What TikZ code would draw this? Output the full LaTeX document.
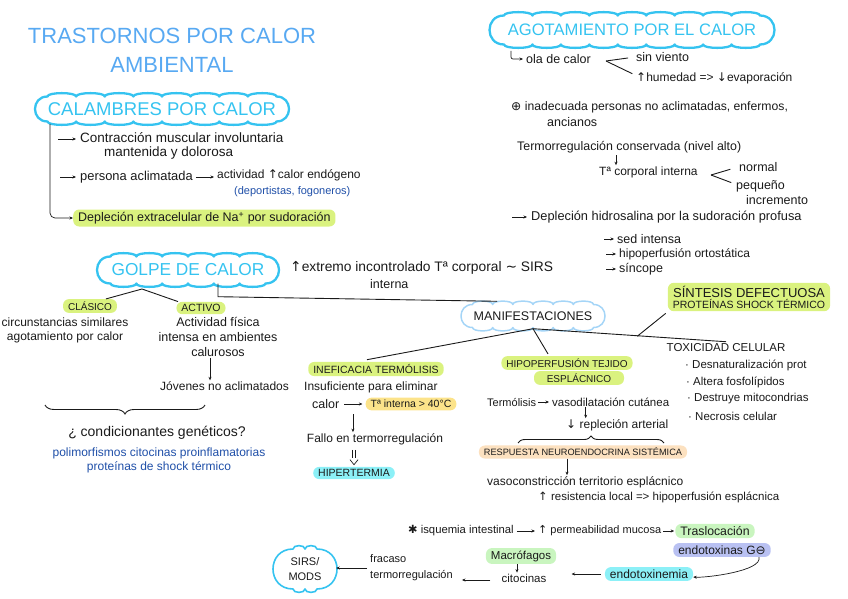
\documentclass[tikz,border=0pt]{standalone}
\usepackage{fontspec}
\setmainfont{Liberation Sans}
\newfontfamily\sym{DejaVu Sans}
\usetikzlibrary{arrows.meta,decorations.pathreplacing,calc}
\definecolor{ink}{HTML}{1A1A1A}
\definecolor{titleblue}{HTML}{58A9F2}
\definecolor{cyanline}{HTML}{35C3F0}
\definecolor{manline}{HTML}{A5D5F7}
\definecolor{lime}{HTML}{DAF27F}
\definecolor{yellowhl}{HTML}{FCE38A}
\definecolor{cyanhl}{HTML}{8CF0F7}
\definecolor{peach}{HTML}{FCE1C0}
\definecolor{lav}{HTML}{B9C1F2}
\definecolor{lgreen}{HTML}{C9F5BF}
\definecolor{dblue}{HTML}{1F4FA8}
\newcommand\fsz[2]{\fontsize{#1}{#2}\selectfont}
% cloud outline: style, cx, cy, straight width, height, number of bumps
\newcommand\cloudframe[6]{%
  \pgfmathsetmacro\cfx{#2-#4/2}%
  \pgfmathsetmacro\cfy{#3-#5/2}%
  \pgfmathsetmacro\cfs{#4/#6}%
  \pgfmathsetmacro\cfe{#5*0.667}%
  \draw[#1] (\cfx,\cfy)
    \foreach \ci in {1,...,#6}{ .. controls +(0,-4.5) and +(0,-4.5) .. ++(\cfs,0) }
    .. controls +(\cfe,0) and +(\cfe,0) .. ++(0,#5)
    \foreach \ci in {1,...,#6}{ .. controls +(0,4.5) and +(0,4.5) .. ++(-\cfs,0) }
    .. controls +(-\cfe,0) and +(-\cfe,0) .. (\cfx,\cfy) -- cycle;
}
\begin{document}
\begin{tikzpicture}[x=1pt,y=-1pt,
  every node/.style={inner sep=1pt, text=ink},
  tx/.style={font=\fsz{12.5}{15}},
  txs/.style={font=\fsz{11.5}{14}},
  txb/.style={font=\fsz{12}{14}, text=dblue},
  title/.style={font=\fsz{22}{26}, text=titleblue},
  bigline/.style={draw=cyanline, line width=2.3pt, line join=round},
  manl/.style={draw=manline, line width=1.5pt, line join=round},
  smline/.style={draw=cyanline, line width=1.6pt, line join=round},
  cloudtext/.style={text=cyanline, inner sep=0pt},
  hl/.style={fill=#1, rounded corners=6pt, inner xsep=5pt, inner ysep=2.5pt},
  arr/.style={-{Stealth[length=3.5pt,width=3pt]}, line width=0.7pt, draw=ink},
  ln/.style={line width=0.9pt, draw=ink}]
\useasboundingbox (0,0) rectangle (848,599);

% ---------- title ----------
\node[title] (t1) at (172,36) {TRASTORNOS POR CALOR};
\node[title] (t2) at (172,65) {AMBIENTAL};

% ---------- calambres ----------
\cloudframe{bigline}{162}{109}{229}{25}{8}
\node[cloudtext, minimum width=229, minimum height=25, font=\fsz{18.5}{20}] (cal) at (162,109) {CALAMBRES POR CALOR};
\coordinate (cv) at (50,124);
\coordinate (ca1) at (58,139);
\coordinate (ca2) at (60,177);
\node[font=\fsz{13.5}{15}, anchor=west] (con1) at (79,138) {Contracción muscular involuntaria};
\node[font=\fsz{13.5}{15}, anchor=west] (con2) at (103,153) {mantenida y dolorosa};
\node[font=\fsz{12.9}{15}, anchor=west] (per) at (79,177) {persona aclimatada};
\node[font=\fsz{12}{14}, anchor=west] (act) at (216,175) {actividad {\sym ↑}calor endógeno};
\node[font=\fsz{11}{13}, text=dblue, anchor=west] (dpt) at (233,192) {(deportistas, fogoneros)};
\node[hl=lime, font=\fsz{12.5}{15}, anchor=west] (dep) at (73,218) {Depleción extracelular de Na\textsuperscript{+} por sudoración};
\draw[arr, rounded corners=5pt] (cv) |- (dep.west);
\draw[arr, shorten >=3pt] (ca1) -- (ca1 -| con1.west);
\draw[arr, shorten >=3pt] (ca2) -- (ca2 -| per.west);
\draw[arr, shorten <=2pt, shorten >=2pt] (per.east) -- (per.east -| act.west);

% ---------- agotamiento ----------
\cloudframe{bigline}{632}{30}{256}{29}{9}
\node[cloudtext, minimum width=256, minimum height=29, font=\fsz{16.6}{19}] (ago) at (632,30) {AGOTAMIENTO POR EL CALOR};
\coordinate (hk) at (511,51);
\node[tx, anchor=west] (ola) at (525,59) {ola de calor};
\draw[arr, rounded corners=2pt, shorten >=2pt] (hk) |- (ola.west);
\node[tx, anchor=west] (sv) at (635,57) {sin viento};
\node[font=\fsz{12}{14}, anchor=west] (hum) at (635,78) {{\sym ↑}humedad => {\sym ↓}evaporación};
\coordinate (v1) at (606,61);
\draw[ln, shorten >=7pt] (v1) -- (sv.west);
\draw[ln, shorten >=3pt] (v1) -- ([yshift=3pt]hum.west);
\node[font=\fsz{12.2}{15}, anchor=west] (inad) at (510,107) {{\sym ⊕} inadecuada personas no aclimatadas, enfermos,};
\node[tx, anchor=west] (anc) at (546,122) {ancianos};
\node[font=\fsz{12.4}{15}, anchor=west] (termc) at (516,147) {Termorregulación conservada (nivel alto)};
\node[font=\fsz{12}{14}, anchor=west] (tcorp) at (598,172) {Tª corporal interna};
\draw[arr] ([xshift=100pt,yshift=-1pt]termc.south west) -- ([xshift=100pt]termc.south west |- tcorp.north);
\node[tx, anchor=west] (norm) at (738,167) {normal};
\node[tx, anchor=west] (peq1) at (735,186) {pequeño};
\node[tx, anchor=west] (peq2) at (745,200) {incremento};
\coordinate (v2) at (711,175);
\draw[ln, shorten >=8pt] (v2) -- (norm.west);
\draw[ln, shorten >=4pt] (v2) -- ([yshift=2pt]peq1.west);
\coordinate (ca3) at (512,217);
\node[font=\fsz{12.8}{15}, anchor=west] (hid) at (530,217) {Depleción hidrosalina por la sudoración profusa};
\draw[arr, shorten >=3pt] (ca3) -- (ca3 -| hid.west);
\coordinate (ca4) at (604,239);
\coordinate (ca5) at (606,254);
\coordinate (ca6) at (606,269);
\node[tx, anchor=west] (sed) at (616,239) {sed intensa};
\node[font=\fsz{12}{14}, anchor=west] (hip) at (618,254) {hipoperfusión ortostática};
\node[tx, anchor=west] (sinc) at (618,269) {síncope};
\draw[arr, shorten >=2pt] (ca4) -- (ca4 -| sed.west);
\draw[arr, shorten >=2pt] (ca5) -- (ca5 -| hip.west);
\draw[arr, shorten >=2pt] (ca6) -- (ca6 -| sinc.west);

% ---------- golpe de calor ----------
\cloudframe{bigline}{188}{270}{155}{27}{6}
\node[cloudtext, minimum width=155, minimum height=27, font=\fsz{17.3}{20}] (gol) at (188,270) {GOLPE DE CALOR};
\node[font=\fsz{13.8}{15}, anchor=west] (ext) at (289,268) {{\sym ↑}extremo incontrolado Tª corporal {\sym ∼} SIRS};
\node[tx, anchor=west] (inter) at (369,284) {interna};
\node[hl=lime, font=\fsz{10}{12}] (clas) at (90,306) {CLÁSICO};
\node[hl=lime, font=\fsz{10.5}{12}] (actv) at (201,308) {ACTIVO};
\coordinate (apx) at (142,289);
\draw[ln] ([xshift=16pt]clas.north) -- (apx) -- ([xshift=-23pt]actv.north);
\node[font=\fsz{12}{14}, align=center] (circ) at (65,330) {circunstancias similares\\agotamiento por calor};
\node[font=\fsz{12.5}{15}, align=center] (actf) at (218,337) {Actividad física\\intensa en ambientes\\calurosos};
\node[font=\fsz{12}{14}, anchor=west] (jov) at (159,386) {Jóvenes no aclimatados};
\draw[arr] ([xshift=-8pt]actf.south) -- ([xshift=-8pt]actf.south |- jov.north);
\coordinate (br1) at (45,405);
\coordinate (br2) at (205,405);
\draw[ln, decorate, decoration={brace, mirror, amplitude=9pt}] (br1) -- (br2);
\node[font=\fsz{14}{16}] (cond) at (157,433) {¿ condicionantes genéticos?};
\node[txb, align=center] (pol) at (159,460) {polimorfismos citocinas proinflamatorias\\proteínas de shock térmico};

% ---------- manifestaciones ----------
\cloudframe{manl}{533}{316}{121}{23}{6}
\node[minimum width=121, minimum height=23, inner sep=0pt, font=\fsz{12.5}{14}] (man) at (533,316) {MANIFESTACIONES};
\draw[ln] ([xshift=30pt]gol.south) -- ++(0,13) -- ([xshift=-36pt, yshift=3pt]man.north);

\node[hl=lime, font=\fsz{10.5}{12}] (inef) at (376,369) {INEFICACIA TERMÓLISIS};
\node[hl=lime, font=\fsz{10}{12}] (hipo1) at (567,363) {HIPOPERFUSIÓN TEJIDO};
\node[hl=lime, font=\fsz{10}{12}, minimum width=90] (hipo2) at (579,378) {ESPLÁCNICO};
\node[font=\fsz{11.5}{14}] (tox) at (726,348) {TOXICIDAD CELULAR};
\node[hl=lime, align=center, inner ysep=3pt, font=\fsz{11}{11}] (sint) at (749,297) {{\fsz{13}{11}SÍNTESIS DEFECTUOSA}\\{\fsz{10.5}{11}PROTEÍNAS SHOCK TÉRMICO}};
\coordinate (mb) at ([yshift=-1pt]man.south);
\draw[ln] ([xshift=-9pt,yshift=2pt]inef.north) -- (mb) -- ([xshift=-19pt,yshift=2pt]hipo1.north);
\draw[ln] (mb) -- ([yshift=1pt]tox.north);
\coordinate (sm) at ($(mb)!0.54!(tox.north)$);
\draw[ln] (sm) -- ([xshift=-2pt,yshift=-2pt]sint.south west);

% toxicidad bullets
\node[txs, anchor=west] (b1) at (684,365) {· Desnaturalización prot};
\node[txs, anchor=west] (b2) at (685,382) {· Altera fosfolípidos};
\node[txs, anchor=west] (b3) at (686,399) {· Destruye mitocondrias};
\node[txs, anchor=west] (b4) at (687,416) {· Necrosis celular};

% ineficacia termolisis
\node[font=\fsz{12}{14}, anchor=west] (insu) at (303,387) {Insuficiente para eliminar};
\node[tx, anchor=west] (calr) at (311,404) {calor};
\node[hl=yellowhl, font=\fsz{10.5}{12}] (t40) at (411,404) {Tª interna > 40°C};
\draw[arr, shorten <=4pt, shorten >=3pt] (calr.east) -- (calr.east -| t40.west);
\node[font=\fsz{12}{14}] (fallo) at (375,439) {Fallo en termorregulación};
\coordinate (m1) at ($(calr.east)!0.5!(t40.west)$);
\draw[arr] ([yshift=-10pt]m1) -- (m1 |- fallo.north);
\node[hl=cyanhl, font=\fsz{10.5}{12}] (hiper) at (354,473) {HIPERTERMIA};
\coordinate (d1) at ([yshift=-4pt]fallo.south -| hiper.north);
\coordinate (d2) at ([yshift=2pt]hiper.north);
\draw[ln, line width=0.7pt] ([xshift=-1.6pt]d1) -- ([xshift=-1.6pt,yshift=7pt]d2);
\draw[ln, line width=0.7pt] ([xshift=1.6pt]d1) -- ([xshift=1.6pt,yshift=7pt]d2);
\draw[ln, line width=0.7pt] ([xshift=-4pt,yshift=5pt]d2) -- (d2) -- ([xshift=4pt,yshift=5pt]d2);

% hipoperfusion
\node[font=\fsz{11}{14}, anchor=west] (termo) at (486,402) {Termólisis};
\node[font=\fsz{11.5}{14}, anchor=west] (vaso) at (551,402) {vasodilatación cutánea};
\draw[arr, shorten <=1pt, shorten >=2pt] (termo) -- (vaso);
\node[font=\fsz{12}{14}, anchor=west] (rep) at (565,425) {{\sym ↓} repleción arterial};
\draw[arr] ([xshift=-25pt]vaso.south) -- ([xshift=-25pt]vaso.south |- rep.north);
\coordinate (br3) at (518,443);
\coordinate (br4) at (664,443);
\draw[ln, decorate, decoration={brace, amplitude=7pt}] (br3) -- (br4);
\node[hl=peach, font=\fsz{9.2}{11}] (resp) at (583,452) {RESPUESTA NEUROENDOCRINA SISTÉMICA};
\node[font=\fsz{12}{14}, anchor=west] (vasoc) at (486,482) {vasoconstricción territorio esplácnico};
\draw[arr] ([xshift=-16pt]resp.south) -- ([xshift=-16pt]resp.south |- vasoc.north);
\node[font=\fsz{11.5}{14}, anchor=west] (resis) at (537,497) {{\sym ↑} resistencia local => hipoperfusión esplácnica};

% ---------- bottom chain ----------
\node[font=\fsz{11.3}{14}, anchor=west] (isq) at (407,531) {{\sym ✱} isquemia intestinal};
\node[font=\fsz{11}{14}, anchor=west] (perm) at (537,531) {{\sym ↑} permeabilidad mucosa};
\node[hl=lgreen, font=\fsz{12.3}{14}] (tras) at (715,531) {Traslocación};
\draw[arr, shorten <=2pt, shorten >=2pt] (isq) -- (perm);
\draw[arr, shorten <=1pt, shorten >=1pt] (perm) -- (tras);
\node[hl=lav, font=\fsz{12}{14}] (endo) at (722,550) {endotoxinas G{\sym ⊖}};
\node[hl=cyanhl, font=\fsz{12}{14}] (endx) at (649,574) {endotoxinemia};
\draw[arr] ([xshift=-12pt]endo.south east) .. controls +(4,14) and +(12,1) .. ([yshift=-3pt]endx.east);
\node[hl=lgreen, font=\fsz{11.5}{14}] (mac) at (521,556) {Macrófagos};
\node[font=\fsz{11.5}{14}] (cit) at (524,578) {citocinas};
\draw[arr] ([xshift=-4pt]mac.south) -- ([xshift=-4pt]mac.south |- cit.north);
\draw[arr, shorten <=4pt, shorten >=24pt] (endx.west) -- (endx.west -| cit.east);
\node[font=\fsz{11}{16}, align=left, anchor=west] (frac) at (369,568) {fracaso\\termorregulación};
\draw[arr, shorten <=10pt, shorten >=8pt] ([yshift=-2pt]cit.west) -- ([yshift=-2pt]cit.west -| frac.east);
\cloudframe{smline}{305}{569}{24}{40}{2}
\node[minimum width=60, minimum height=40, inner sep=0pt, align=center, font=\fsz{11}{15}] (sirs) at (305,569) {SIRS/\\MODS};
\draw[arr, shorten <=2pt, shorten >=1pt] (frac.west) -- (frac.west -| sirs.east);
\end{tikzpicture}
\end{document}
